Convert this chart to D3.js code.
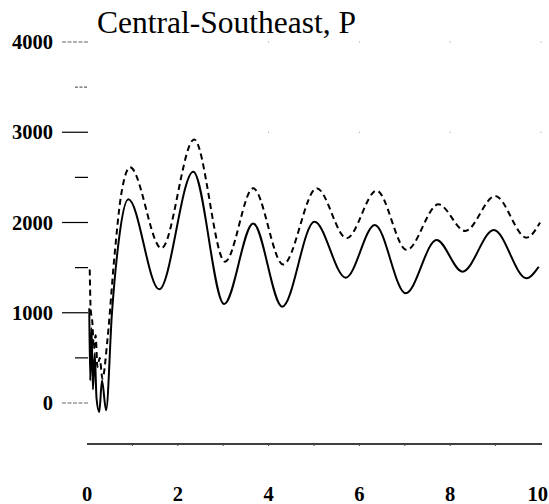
<!DOCTYPE html>
<html>
<head>
<meta charset="utf-8">
<script src="https://cdn.jsdelivr.net/npm/d3@7"></script>
<style>
  html, body { margin: 0; padding: 0; background: #fff; }
  svg { display: block; }
</style>
</head>
<body>
<svg id="chart" width="549" height="504"></svg>
<script>
// ---- data ----
const title = "Central-Southeast, P";
const xTicks = [0, 2, 4, 6, 8, 10];
const xMinorTicks = [1, 2, 3, 4, 5, 6, 7, 8, 9];
const yTicks = [0, 1000, 2000, 3000, 4000];
const yMinorTicks = [500, 1500, 2500, 3500];

// solid series (t, value)
const solidT = [0.05, 0.07, 0.10, 0.13, 0.17, 0.21, 0.27, 0.33, 0.42, 0.55, 0.70, 0.91, 1.59, 2.34, 3.02, 3.66, 4.30, 5.01, 5.70, 6.34, 7.02, 7.70, 8.27, 8.96, 9.68, 9.95];
const solidV = [1050, 250, 830, 150, 550, 50, -100, 250, -80, 1000, 1800, 2257, 1260, 2563, 1097, 1990, 1067, 2009, 1389, 1972, 1215, 1806, 1455, 1917, 1382, 1510];

// dashed series (t, value)
const dashT = [0.06, 0.08, 0.12, 0.15, 0.19, 0.23, 0.28, 0.34, 0.45, 0.60, 0.75, 0.95, 1.64, 2.36, 3.04, 3.66, 4.32, 5.06, 5.72, 6.38, 7.04, 7.74, 8.33, 8.99, 9.68, 9.98];
const dashV = [1480, 1050, 880, 600, 750, 400, 500, 270, 700, 1600, 2300, 2611, 1714, 2920, 1566, 2379, 1536, 2379, 1825, 2353, 1695, 2201, 1906, 2294, 1832, 2000];

// ---- drawing ----
const svg = d3.select("#chart");
const x = d3.scaleLinear().domain([0, 10]).range([87, 541]);
const y = d3.scaleLinear().domain([0, 4000]).range([403, 42]);

const serif = "'Liberation Serif', 'Times New Roman', serif";

// title
svg.append("text")
  .attr("x", 97).attr("y", 33)
  .attr("font-family", serif).attr("font-size", 31.5)
  .attr("fill", "#000")
  .text(title);

// y ticks (pointing left, outside plot)
const faint = new Set([0, 4000, 3500]);
svg.append("g").selectAll("line.maj").data(yTicks).join("line")
  .attr("x1", 62).attr("x2", 88)
  .attr("y1", d => y(d)).attr("y2", d => y(d))
  .attr("stroke", d => faint.has(d) ? "#666" : "#000")
  .attr("stroke-width", 1.2)
  .attr("stroke-dasharray", d => faint.has(d) ? "4,1.5" : null);
svg.append("g").selectAll("line.min").data(yMinorTicks).join("line")
  .attr("x1", 75).attr("x2", 88)
  .attr("y1", d => y(d)).attr("y2", d => y(d))
  .attr("stroke", d => faint.has(d) ? "#666" : "#000")
  .attr("stroke-width", 1.2)
  .attr("stroke-dasharray", d => faint.has(d) ? "3,1.5" : null);

svg.append("g").selectAll("text").data(yTicks).join("text")
  .attr("x", 53).attr("y", d => y(d) + 7)
  .attr("text-anchor", "end")
  .attr("font-family", serif).attr("font-size", 20.5).attr("font-weight", "bold")
  .text(d => d);

// x axis
const xAxisY = 444;
svg.append("line")
  .attr("x1", x(0)).attr("x2", x(10) + 1)
  .attr("y1", xAxisY).attr("y2", xAxisY)
  .attr("stroke", "#000").attr("stroke-width", 1.3);
svg.append("g").selectAll("line").data(xMinorTicks).join("line")
  .attr("x1", d => x(d)).attr("x2", d => x(d))
  .attr("y1", xAxisY).attr("y2", xAxisY + 2)
  .attr("stroke", "#444").attr("stroke-width", 1);
const lastTick = xTicks[xTicks.length - 1];
svg.append("g").selectAll("text").data(xTicks).join("text")
  .attr("x", d => d === lastTick ? Math.min(x(d) + 10, 548) : x(d))
  .attr("y", 501)
  .attr("text-anchor", d => d === lastTick ? "end" : "middle")
  .attr("font-family", serif).attr("font-size", 20.5).attr("font-weight", "bold")
  .text(d => d);

// faint grid dots
const dotX = [4, 6, 8, 10], dotY = [4000, 3000];
svg.append("g").selectAll("rect").data(d3.cross(dotX, dotY)).join("rect")
  .attr("x", d => x(d[0]) - 0.5).attr("y", d => y(d[1]) - 0.5)
  .attr("width", 1).attr("height", 1).attr("fill", "#999");

// lines
const line = d3.line().x(d => x(d[0])).y(d => y(d[1])).curve(d3.curveMonotoneX);
svg.append("path")
  .datum(d3.zip(dashT, dashV))
  .attr("d", line)
  .attr("fill", "none").attr("stroke", "#000").attr("stroke-width", 2)
  .attr("stroke-dasharray", "6,4");
svg.append("path")
  .datum(d3.zip(solidT, solidV))
  .attr("d", line)
  .attr("fill", "none").attr("stroke", "#000").attr("stroke-width", 2);
</script>
</body>
</html>
